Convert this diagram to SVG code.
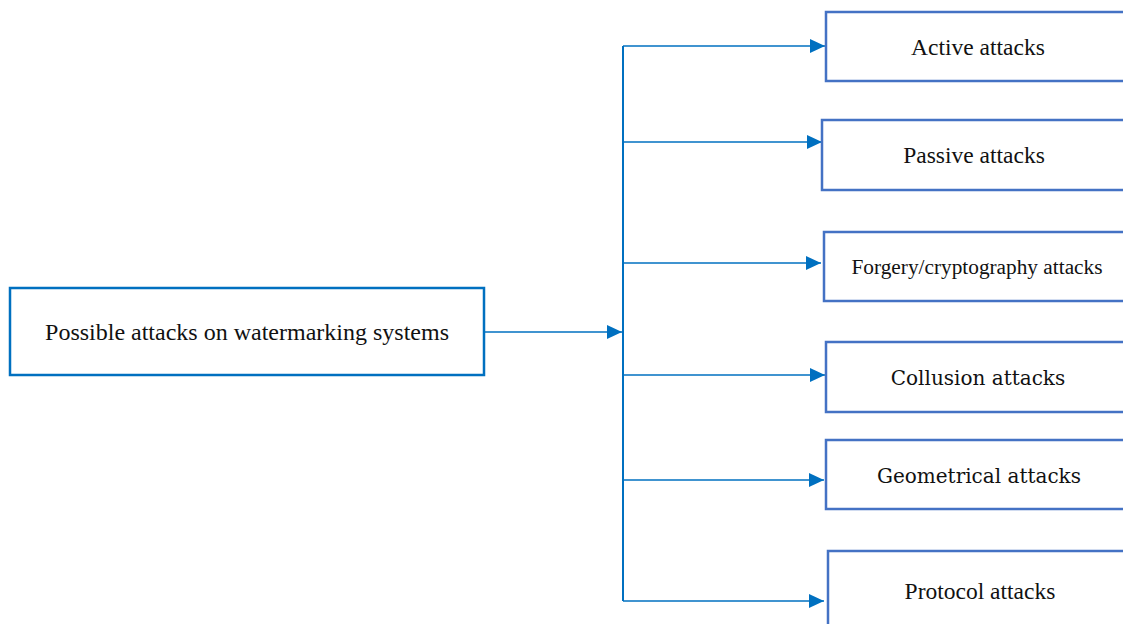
<svg xmlns="http://www.w3.org/2000/svg" width="1123" height="624" viewBox="0 0 1123 624">
<style>
.box{fill:#fff;stroke:#4472C4;stroke-width:2.5}
.main{fill:#fff;stroke:#0070C0;stroke-width:2.5}
.t{font-family:"Liberation Serif","Times New Roman",serif;font-size:23.5px;fill:#111;text-anchor:middle}
.c{font-family:"DejaVu Serif",serif;font-size:20px;fill:#111;text-anchor:middle}
.ln{stroke:#0070C0;stroke-width:1.5;fill:none}
</style>
<defs>
<marker id="ah" markerWidth="15" markerHeight="14" refX="15" refY="7" orient="auto" markerUnits="userSpaceOnUse">
<path d="M0,0 L15,7 L0,14 Z" fill="#0070C0"/>
</marker>
</defs>
<rect width="1123" height="624" fill="#fff"/>
<g id="connectors">
<line class="ln" x1="623" y1="46" x2="623" y2="601" style="stroke-width:2"/>
<line class="ln" x1="484" y1="332" x2="622" y2="332" marker-end="url(#ah)"/>
<line class="ln" x1="623" y1="46" x2="825" y2="46" marker-end="url(#ah)"/>
<line class="ln" x1="623" y1="142" x2="822" y2="142" marker-end="url(#ah)"/>
<line class="ln" x1="623" y1="263" x2="821" y2="263" marker-end="url(#ah)"/>
<line class="ln" x1="623" y1="375" x2="825" y2="375" marker-end="url(#ah)"/>
<line class="ln" x1="623" y1="480" x2="824" y2="480" marker-end="url(#ah)"/>
<line class="ln" x1="623" y1="601" x2="824" y2="601" marker-end="url(#ah)"/>
</g>
<g id="main">
<rect class="main" x="10" y="288" width="474" height="87"/>
<text class="t" x="247" y="340" style="font-size:24px">Possible attacks on watermarking systems</text>
</g>
<g id="active">
<rect class="box" x="826" y="12" width="310" height="69"/>
<text class="t" x="978" y="55">Active attacks</text>
</g>
<g id="passive">
<rect class="box" x="822" y="120" width="314" height="70"/>
<text class="t" x="974" y="163">Passive attacks</text>
</g>
<g id="forgery">
<rect class="box" x="824" y="232" width="312" height="69"/>
<text class="t" x="977" y="274" style="font-size:21.3px">Forgery/cryptography attacks</text>
</g>
<g id="collusion">
<rect class="box" x="826" y="342" width="310" height="70"/>
<text class="c" x="978" y="385">Collusion attacks</text>
</g>
<g id="geometrical">
<rect class="box" x="826" y="440" width="310" height="69"/>
<text class="c" x="979" y="483">Geometrical attacks</text>
</g>
<g id="protocol">
<rect class="box" x="828" y="551" width="310" height="80"/>
<text class="t" x="980" y="599">Protocol attacks</text>
</g>
</svg>
